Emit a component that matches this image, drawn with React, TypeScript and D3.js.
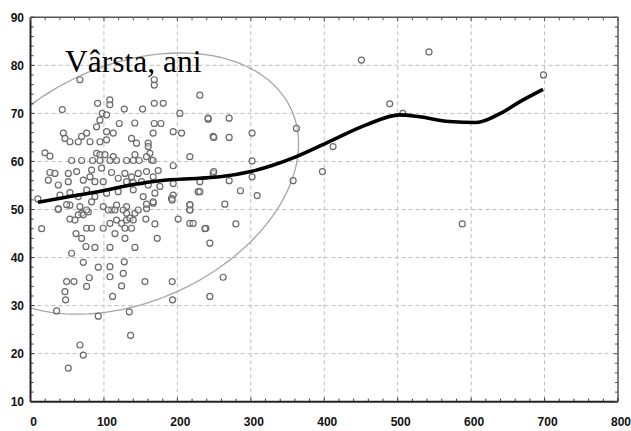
import React from "react";
import * as d3 from "d3";

const W = 631;
const H = 431;

const xTicks = [0, 100, 200, 300, 400, 500, 600, 700, 800];
const yTicks = [10, 20, 30, 40, 50, 60, 70, 80, 90];

// scatter points: [x, age]
const pointsX = [
  67.3, 43.3, 91.4, 108, 108, 97.7, 103.6, 127.7, 152.6, 168.5, 168.5, 168.5, 180.7, 203.4, 230.6, 242, 248.7,
  168.5, 177.5, 167, 120.9, 142, 94.5, 90, 103.6, 112.7,
  44.7, 46.9, 53.7, 65.1, 69.6, 76.4, 81, 94.6, 103.6, 137.6, 144.4, 160.3, 194.3, 205.7, 160.3, 162.6,
  19.7, 26.5, 90, 94.6, 101.4, 112.7, 142.2, 158, 164.8, 217,
  56, 69.6, 84.6, 94.6, 108.2, 117.2, 130.8, 139.9, 148, 167,
  26.5, 33.3, 51.5, 62.8, 83.2, 96.8, 110.4, 128.6, 137.6, 146.7, 158, 173.9, 194.3, 167.1,
  24.3, 37.9, 51.5, 71.9, 81, 87.7, 99.1, 119.5, 130.8, 139.9, 151.2, 160.3, 176.2, 194.3, 230.6, 248.7,
  40.1, 53.7, 65.1, 76.4, 87.7, 103.6, 119.5, 139.9, 153.5, 169.4, 194.3, 228.3,
  37.9, 53.7, 67.3, 69.6, 78.7, 99.1, 110.4, 117.2, 130.8, 142.2, 158, 167.1, 192, 217, 217,
  15.2, 37.9, 49.2, 53.7, 60.5, 65, 71.9, 76.4, 83.2, 61.9, 69.6, 75.5, 76.4, 83.2, 99, 56, 71.9, 80, 76.4,
  92.3, 87.7, 108.2, 108.2, 108.2, 111.8, 49.2, 59.2, 46.9, 47.8, 105.9, 115, 108.2, 117.2, 124, 130.8, 115,
  126.3, 130.8, 135.4, 139.9, 137.6, 128.6, 128.6, 127.7, 126.3, 124, 142.2, 146.7, 155.8, 157.1, 158, 167,
  169.4, 172.6, 193, 201.1, 193, 193.4, 217, 217, 217, 221.5, 238.8, 244.2, 244.2, 35.6, 92.3, 134.5, 136.3,
  67.3, 71.9, 51.5,
  450.6, 489.1, 507, 241.9, 270.5, 249.6, 270.5, 301.8, 362.1, 301.8, 412, 249.6, 270.5, 301.8, 230.6, 285.9,
  308.6, 264.6, 357.6, 397.5, 542.6, 698.6, 588, 237.4, 279.6, 262.3, 10,
];
const pointsY = [
  77, 70.8, 72.1, 72.8, 71.8, 70, 69.7, 70.9, 70.9, 77, 75.9, 72.1, 72.1, 70, 73.8, 68.8, 65.2,
  67.9, 67.9, 65.9, 67.9, 68, 68.6, 67.2, 66.2, 65.9,
  65.9, 64.8, 64.1, 64.1, 65.2, 65.9, 64.1, 64.1, 64.5, 64.8, 63.8, 63.8, 66.2, 65.9, 63.1, 61.7,
  61.8, 61.1, 61.7, 61.4, 61.4, 61, 61.4, 61, 60.3, 61,
  60.2, 60.2, 60.2, 60.2, 60.2, 60.2, 60.2, 60.2, 60.2, 60.2,
  57.7, 57.5, 57.5, 57.9, 58.2, 58.6, 57.7, 57.5, 56.8, 57.5, 57.9, 58.1, 59.1, 56.8,
  56.1, 55.1, 55.8, 56.1, 56.8, 55.8, 55.8, 56.5, 55.8, 55.6, 55.8, 55.1, 54.8, 55.4, 55.8, 57.5,
  53, 53.5, 52.7, 54.1, 52.7, 53.4, 53.7, 54.1, 52.7, 53.4, 53, 53.7,
  50.2, 50.9, 50.6, 49.2, 49.5, 50.6, 49.9, 50.9, 50.6, 49.2, 50.2, 51.3, 52.3, 50.9, 49.9,
  46, 50, 51, 48, 47.8, 48.9, 48.9, 49.9, 51.6, 45, 44, 42.3, 46.1, 46.1, 46.1, 40.9, 39, 35.8, 34,
  38, 42.1, 42.1, 38.1, 36, 31.9, 35, 35, 32.9, 31.2, 49.9, 49.9, 47.1, 47.8, 47.1, 47.8, 45,
  49.9, 49.2, 48.2, 47.8, 46.1, 46.1, 44, 39.1, 36.7, 34.1, 42.1, 49.9, 35, 48, 51.1, 51.6,
  47, 44, 52, 48, 35, 31.2, 51, 49.9, 47.1, 47.1, 46.1, 43, 31.9, 28.9, 27.8, 28.7, 23.8,
  21.8, 19.7, 17,
  81.1, 72, 70, 69, 69, 65, 65, 65.9, 66.9, 60.1, 63.1, 57.9, 56, 56.8, 53.7, 53.9,
  52.9, 51.1, 56, 57.9, 82.8, 78, 47, 46, 47, 35.9, 52.2,
];

// LOWESS smoothing curve
const smoothX = [10, 50, 95, 140, 176, 230, 258, 300, 330, 362, 412, 457, 503, 530, 570, 607, 640, 666, 698];
const smoothY = [51.5, 52.6, 53.8, 55.2, 56, 56.5, 56.8, 57.9, 59.2, 61, 64.5, 67.6, 69.7, 69.3, 68.3, 68.1, 70, 72.4, 75];

// confidence ellipse (data units)
const ellipseCenter = [134, 55.4];
const ellipseCov = [53371, 1909, 738.7]; // sxx, sxy, syy

export default function App() {
  const left = 30.5, right = 618, top = 17.3, bottom = 401.7;
  const x = d3.scaleLinear().domain([0, 800]).range([left, right]);
  const y = d3.scaleLinear().domain([10, 90]).range([bottom, top]);

  const pts = pointsX.map((v, i) => [v, pointsY[i]] as [number, number]);
  const smooth = smoothX.map((v, i) => [v, smoothY[i]] as [number, number]);

  const line = d3
    .line<[number, number]>()
    .x((d) => x(d[0]))
    .y((d) => y(d[1]))
    .curve(d3.curveMonotoneX);

  const [sxx, sxy, syy] = ellipseCov;
  const l11 = Math.sqrt(sxx);
  const l21 = sxy / l11;
  const l22 = Math.sqrt(syy - l21 * l21);
  const ell: [number, number][] = d3.range(0, 361, 2).map((deg) => {
    const t = (deg * Math.PI) / 180;
    return [ellipseCenter[0] + l11 * Math.cos(t), ellipseCenter[1] + l21 * Math.cos(t) + l22 * Math.sin(t)];
  });
  const ellLine = d3
    .line<[number, number]>()
    .x((d) => x(d[0]))
    .y((d) => y(d[1]))
    .curve(d3.curveLinearClosed);

  const xMinor = d3.range(0, 801, 20);
  const yMinor = d3.range(10, 91, 2);
  const font = "'Liberation Sans Narrow', 'Liberation Sans', Arial, sans-serif";

  return (
    <svg width={W} height={H} style={{ position: "absolute", left: 0, top: 0, background: "#fff" }}>
      <defs>
        <clipPath id="plot">
          <rect x={left} y={top} width={right - left} height={bottom - top} />
        </clipPath>
      </defs>
      <rect x={left} y={top} width={right - left} height={bottom - top} fill="#fff" />
      {/* grid */}
      {xTicks.slice(1, -1).map((t) => (
        <line key={"gx" + t} x1={x(t)} x2={x(t)} y1={top} y2={bottom} stroke="#bdbdbd" strokeWidth={1} strokeDasharray="4,3" />
      ))}
      {yTicks.slice(1, -1).map((t) => (
        <line key={"gy" + t} x1={left} x2={right} y1={y(t)} y2={y(t)} stroke="#bdbdbd" strokeWidth={1} strokeDasharray="4,3" />
      ))}
      <g clipPath="url(#plot)">
        <path d={ellLine(ell) || ""} fill="none" stroke="#a6a6a6" strokeWidth={1.3} />
        {pts.map((p, i) => (
          <circle key={i} cx={x(p[0])} cy={y(p[1])} r={3} fill="#fff" fillOpacity={0.4} stroke="#6a6a6a" strokeWidth={1.2} />
        ))}
        <path d={line(smooth) || ""} fill="none" stroke="#000" strokeWidth={3.6} strokeLinejoin="round" />
      </g>
      {/* frame */}
      <line x1={left} x2={right} y1={top} y2={top} stroke="#555" strokeWidth={1.5} />
      <line x1={right} x2={right} y1={top} y2={bottom} stroke="#555" strokeWidth={1.5} />
      <line x1={left} x2={right} y1={bottom} y2={bottom} stroke="#222" strokeWidth={2} />
      <line x1={left} x2={left} y1={top} y2={bottom} stroke="#222" strokeWidth={2} />
      {/* ticks */}
      {xMinor.map((t) => {
        const len = t % 100 === 0 ? 4 : 3;
        return (
          <g key={"tx" + t}>
            <line x1={x(t)} x2={x(t)} y1={bottom} y2={bottom - len} stroke="#333" strokeWidth={1} />
            <line x1={x(t)} x2={x(t)} y1={top} y2={top + len} stroke="#555" strokeWidth={1} />
          </g>
        );
      })}
      {yMinor.map((t) => {
        const len = t % 10 === 0 ? 4 : 3;
        return (
          <g key={"ty" + t}>
            <line x1={left} x2={left + len} y1={y(t)} y2={y(t)} stroke="#333" strokeWidth={1} />
            <line x1={right} x2={right - len} y1={y(t)} y2={y(t)} stroke="#555" strokeWidth={1} />
          </g>
        );
      })}
      {/* labels */}
      {yTicks.map((t) => (
        <text key={"ly" + t} x={24} y={y(t) + 4.5} textAnchor="end" fontFamily={font} fontWeight="bold" fontSize={12} fill="#111">
          {t}
        </text>
      ))}
      {xTicks.map((t) => (
        <text key={"lx" + t} x={x(t) + 3} y={426} textAnchor="middle" fontFamily={font} fontWeight="bold" fontSize={12} fill="#111">
          {t}
        </text>
      ))}
      <text x={65} y={72} fontFamily="'Liberation Serif', 'Times New Roman', serif" fontSize={31.5} fill="#000">
        Vârsta, ani
      </text>
    </svg>
  );
}
